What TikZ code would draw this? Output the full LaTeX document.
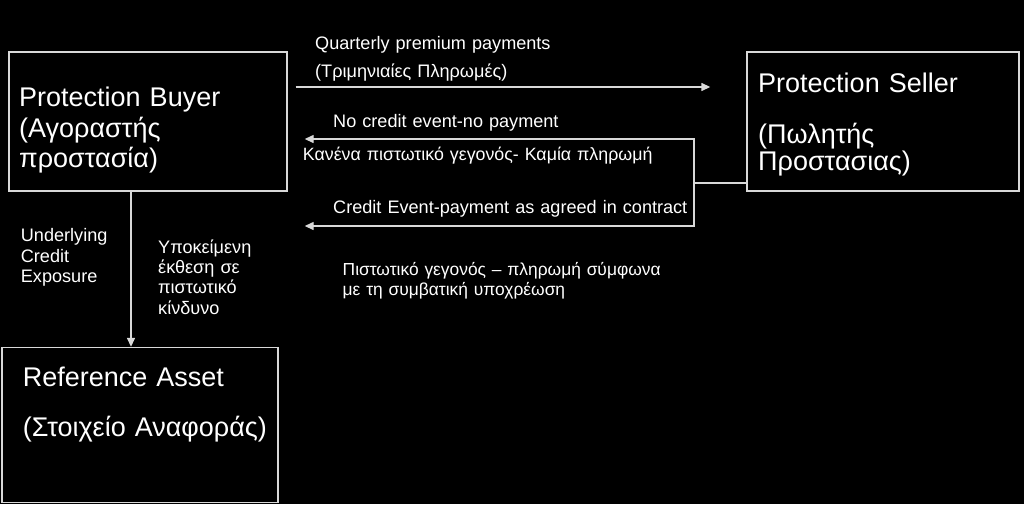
\documentclass[tikz,border=0pt]{standalone}
\usepackage{fontspec}
\setmainfont{Liberation Sans}
\usetikzlibrary{positioning,arrows.meta}
\definecolor{linegray}{HTML}{D9D9D9}

\begin{document}
\begin{tikzpicture}[x=1pt,y=-1pt,
    box/.style={draw=linegray,line width=1.4pt,fill=black,inner sep=0pt},
    big/.style={text=white,inner sep=0pt,anchor=base west,align=left,text width=#1,font=\fontsize{27}{27}\selectfont},
    small/.style={text=white,inner sep=0pt,anchor=base west,align=left,text width=#1,font=\fontsize{18.1}{20.3}\selectfont},
    wire/.style={draw=linegray,line width=1.4pt},
    flow/.style={wire,-{Triangle[length=9pt,width=8pt]}}]
   \fill[black] (0,0) rectangle (1024,504);
   \useasboundingbox (0,0) rectangle (1024,504);

   \node[box,minimum width=278pt,minimum height=139pt] (buyer) at (148,121.5) {};
   \node[box,minimum width=272pt,minimum height=139pt] (seller) at (883,121.5) {};
   \node[box,minimum width=276pt,minimum height=155pt] (asset) at (140,425) {};

   \node[big=250pt] (t_buyer) at (19,106.5) {Protection Buyer\\[3.5pt](Αγοραστής\\[3.5pt]προστασία)};
   \node[big=250pt] (t_seller) at (758,92.3) {Protection Seller\\[24pt](Πωλητής\\Προστασιας)};
   \node[big=250pt] (t_asset) at (22.7,386.7) {Reference Asset\\[23pt](Στοιχείο Αναφοράς)};

   \coordinate (split) at (694,183);
   \draw[flow,shorten <=8pt,shorten >=36pt] (buyer.east |- 0,87) -- (seller.west |- 0,87);
   \draw[wire] (seller.west |- split) -- (split);
   \draw[flow,shorten >=17pt] (split) |- (buyer.east |- 0,139);
   \draw[flow,shorten >=17pt] (split) |- (buyer.east |- 0,226);
   \draw[flow] (131,0 |- buyer.south) -- (131,0 |- asset.north);

   \node[small=300pt] (l_prem) at (315,49) {Quarterly premium payments\\[7.8pt](Τριμηνιαίες Πληρωμές)};
   \node[small=300pt] (l_none) at (333,127.3) {No credit event-no payment};
   \node[small=380pt,font=\fontsize{17.8}{20.3}\selectfont] (l_none_gr) at (302.7,160) {Κανένα πιστωτικό γεγονός- Καμία πληρωμή};
   \node[small=380pt] (l_event) at (333,213.5) {Credit Event-payment as agreed in contract};
   \node[small=380pt,font=\fontsize{17.4}{20}\selectfont] (l_event_gr) at (342.5,275.5) {Πιστωτικό γεγονός – πληρωμή σύμφωνα\\με τη συμβατική υποχρέωση};
   \node[small=120pt] (l_exp) at (20.7,241.7) {Underlying\\Credit\\Exposure};
   \node[small=120pt] (l_exp_gr) at (158,253.3) {Υποκείμενη\\έκθεση σε\\πιστωτικό\\κίνδυνο};
\end{tikzpicture}
\end{document}
